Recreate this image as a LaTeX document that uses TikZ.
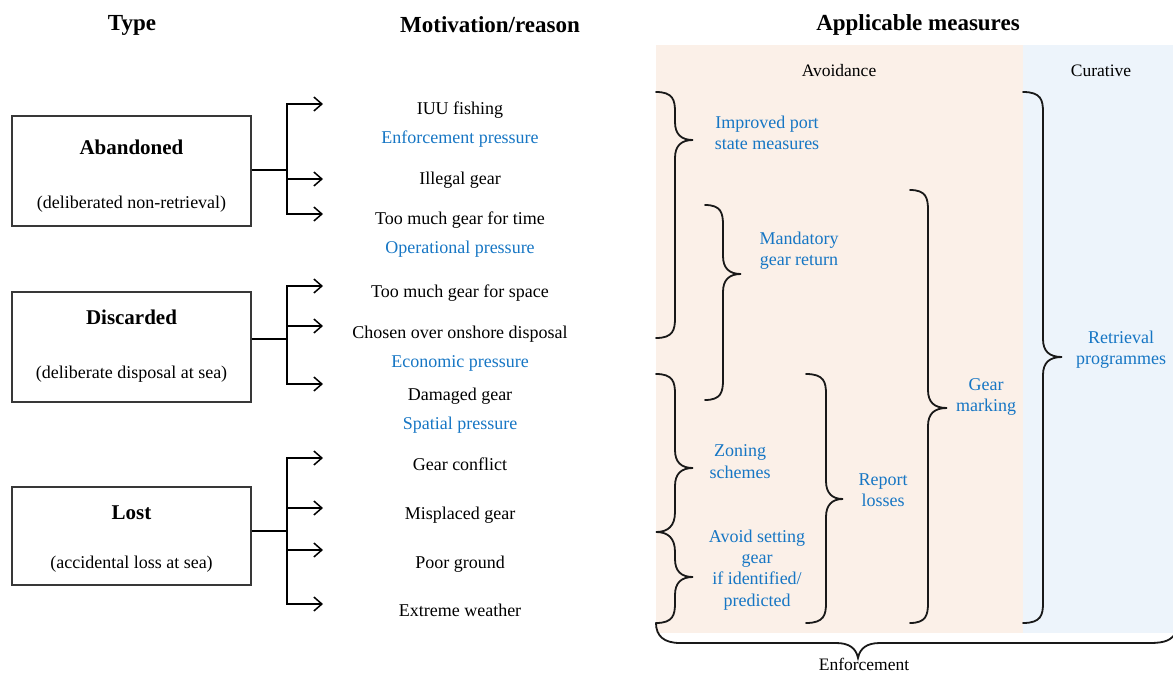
\documentclass[tikz,border=0pt]{standalone}
\usepackage{fontspec}
\setmainfont{Liberation Serif}
\usetikzlibrary{arrows.meta}
\definecolor{txtblue}{RGB}{22,118,196}
\definecolor{avoidbg}{RGB}{251,240,232}
\definecolor{curbg}{RGB}{237,244,251}
\newcommand{\mybrace}[6]{%
 \draw[bracestyle] ({#1},{#4}) .. controls ({#2-2},{#4}) and ({#2},{#4+8}) .. ({#2},{#4+20})
  -- ({#2},{#5-18}) .. controls ({#2},{#5-6}) and ({#2+6},{#5}) .. ({#3},{#5})
  .. controls ({#2+6},{#5}) and ({#2},{#5+6}) .. ({#2},{#5+18})
  -- ({#2},{#6-20}) .. controls ({#2},{#6-8}) and ({#2-2},{#6}) .. ({#1},{#6});}
\begin{document}
\begin{tikzpicture}[x=1pt,y=-1pt,
  hdr/.style={font=\fontsize{23}{27}\selectfont\bfseries, inner sep=0pt, yshift=-1pt},
  txt/.style={font=\fontsize{18}{21.3}\selectfont, inner sep=0pt, text height=12pt, text depth=4pt, yshift=-2pt},
  ttl/.style={font=\fontsize{21}{24}\selectfont\bfseries, inner sep=0pt, text height=14pt, text depth=4pt, yshift=-2pt},
  bl/.style={font=\fontsize{18}{21.3}\selectfont, inner sep=0pt, text=txtblue, align=center, yshift=-1pt},
  blt/.style={txt, text=txtblue},
  sub/.style={font=\fontsize{17.5}{20}\selectfont, inner sep=0pt, text height=12pt, text depth=4pt, yshift=-2pt},
  typebox/.style={draw=black!78, line width=1.4pt, minimum width=239pt, inner sep=0pt},
  conn/.style={line width=1.5pt, black},
  arr/.style={line width=1.5pt, black, -{Straight Barb[length=8pt,width=14pt,line width=1.5pt]}},
  bracestyle/.style={line width=1.8pt, black!90, line cap=round}
]
\useasboundingbox (0,0) rectangle (1173,673);
% panels
\fill[avoidbg] (656,45) rectangle (1023,633);
\fill[curbg] (1023,45) rectangle (1173,633);
% headers
\node[hdr] (hType) at (132,24) {Type};
\node[hdr] (hMot) at (490,24) {Motivation/reason};
\node[hdr] (hApp) at (918,24) {Applicable measures};
\node[sub] (hAvo) at (839,70) {Avoidance};
\node[sub] (hCur) at (1101,70) {Curative};
% type boxes
\node[typebox, minimum height=110pt] (ab) at (131.5,171) {};
\node[ttl] (abt) at (131.5,147) {Abandoned};
\node[txt] (abs) at (131.5,202) {(deliberated non-retrieval)};
\node[typebox, minimum height=110pt] (di) at (131.5,347) {};
\node[ttl] (dit) at (131.5,317) {Discarded};
\node[txt] (dis) at (131.5,372) {(deliberate disposal at sea)};
\node[typebox, minimum height=98pt] (lo) at (131.5,536) {};
\node[ttl] (lot) at (131.5,512) {Lost};
\node[txt] (los) at (131.5,562) {(accidental loss at sea)};
% reasons
\node[txt] (r1) at (460,108) {IUU fishing};
\node[blt] (p1) at (460,137) {Enforcement pressure};
\node[txt] (r2) at (460,178) {Illegal gear};
\node[txt] (r3) at (460,218) {Too much gear for time};
\node[blt] (p2) at (460,247) {Operational pressure};
\node[txt] (r4) at (460,291) {Too much gear for space};
\node[txt] (r5) at (460,332) {Chosen over onshore disposal};
\node[blt] (p3) at (460,361) {Economic pressure};
\node[txt] (r6) at (460,394) {Damaged gear};
\node[blt] (p4) at (460,423) {Spatial pressure};
\node[txt] (r7) at (460,464) {Gear conflict};
\node[txt] (r8) at (460,513) {Misplaced gear};
\node[txt] (r9) at (460,562) {Poor ground};
\node[txt] (r10) at (460,610) {Extreme weather};
% connectors
\coordinate (abj) at (287,170);
\coordinate (a1) at (323,104);
\coordinate (a2) at (323,179);
\coordinate (a3) at (323,214);
\draw[conn] (ab.east |- abj) -- (abj);
\draw[arr] (abj) |- (a1);
\draw[arr] (abj) |- (a2);
\draw[arr] (abj) |- (a3);
\coordinate (dij) at (287,339);
\coordinate (d1) at (323,286);
\coordinate (d2) at (323,326);
\coordinate (d3) at (323,384);
\draw[conn] (di.east |- dij) -- (dij);
\draw[arr] (dij) |- (d1);
\draw[arr] (dij) |- (d2);
\draw[arr] (dij) |- (d3);
\coordinate (loj) at (287,531);
\coordinate (l1) at (323,458);
\coordinate (l2) at (323,508);
\coordinate (l3) at (323,550);
\coordinate (l4) at (323,604);
\draw[conn] (lo.east |- loj) -- (loj);
\draw[arr] (loj) |- (l1);
\draw[arr] (loj) |- (l2);
\draw[arr] (loj) |- (l3);
\draw[arr] (loj) |- (l4);
% braces
\mybrace{656}{675}{693}{92}{140}{338}
\mybrace{705}{723}{741}{205}{274}{400}
\mybrace{806}{826}{843}{374}{499}{623}
\mybrace{910}{928}{947}{190}{408}{623}
\mybrace{1023}{1043}{1062}{92}{357}{623}
\draw[bracestyle] (656,374) .. controls (673,374) and (675,382) .. (675,394)
  -- (675,450) .. controls (675,462) and (681,468) .. (693,468)
  .. controls (681,468) and (675,474) .. (675,486)
  -- (675,512) .. controls (675,526) and (668,532) .. (656,532)
  .. controls (668,532) and (675,538) .. (675,552)
  -- (675,559) .. controls (675,571) and (681,577) .. (693,577)
  .. controls (681,577) and (675,583) .. (675,595)
  -- (675,603) .. controls (675,615) and (673,623) .. (656,623);
\draw[bracestyle] (656,623) .. controls (656,636) and (664,643) .. (680,643)
  -- (836,643) .. controls (849,643) and (856,648) .. (858,658)
  .. controls (860,648) and (867,643) .. (880,643)
  -- (1150,643) .. controls (1165,643) and (1172,640) .. (1176,632);
% measures
\node[bl] (m1) at (767,131.5) {Improved port\\state measures};
\node[bl] (m2) at (799,250) {Mandatory\\gear return};
\node[bl] (m3) at (740,460.5) {Zoning\\schemes};
\node[bl] (m4) at (757,569) {Avoid setting\\gear\\if identified/\\predicted};
\node[bl] (m5) at (883,489.5) {Report\\losses};
\node[bl] (m6) at (986,396) {Gear\\marking};
\node[bl] (m7) at (1121,348.5) {Retrieval\\programmes};
\node[sub] (enf) at (864,664) {Enforcement};
\end{tikzpicture}
\end{document}
